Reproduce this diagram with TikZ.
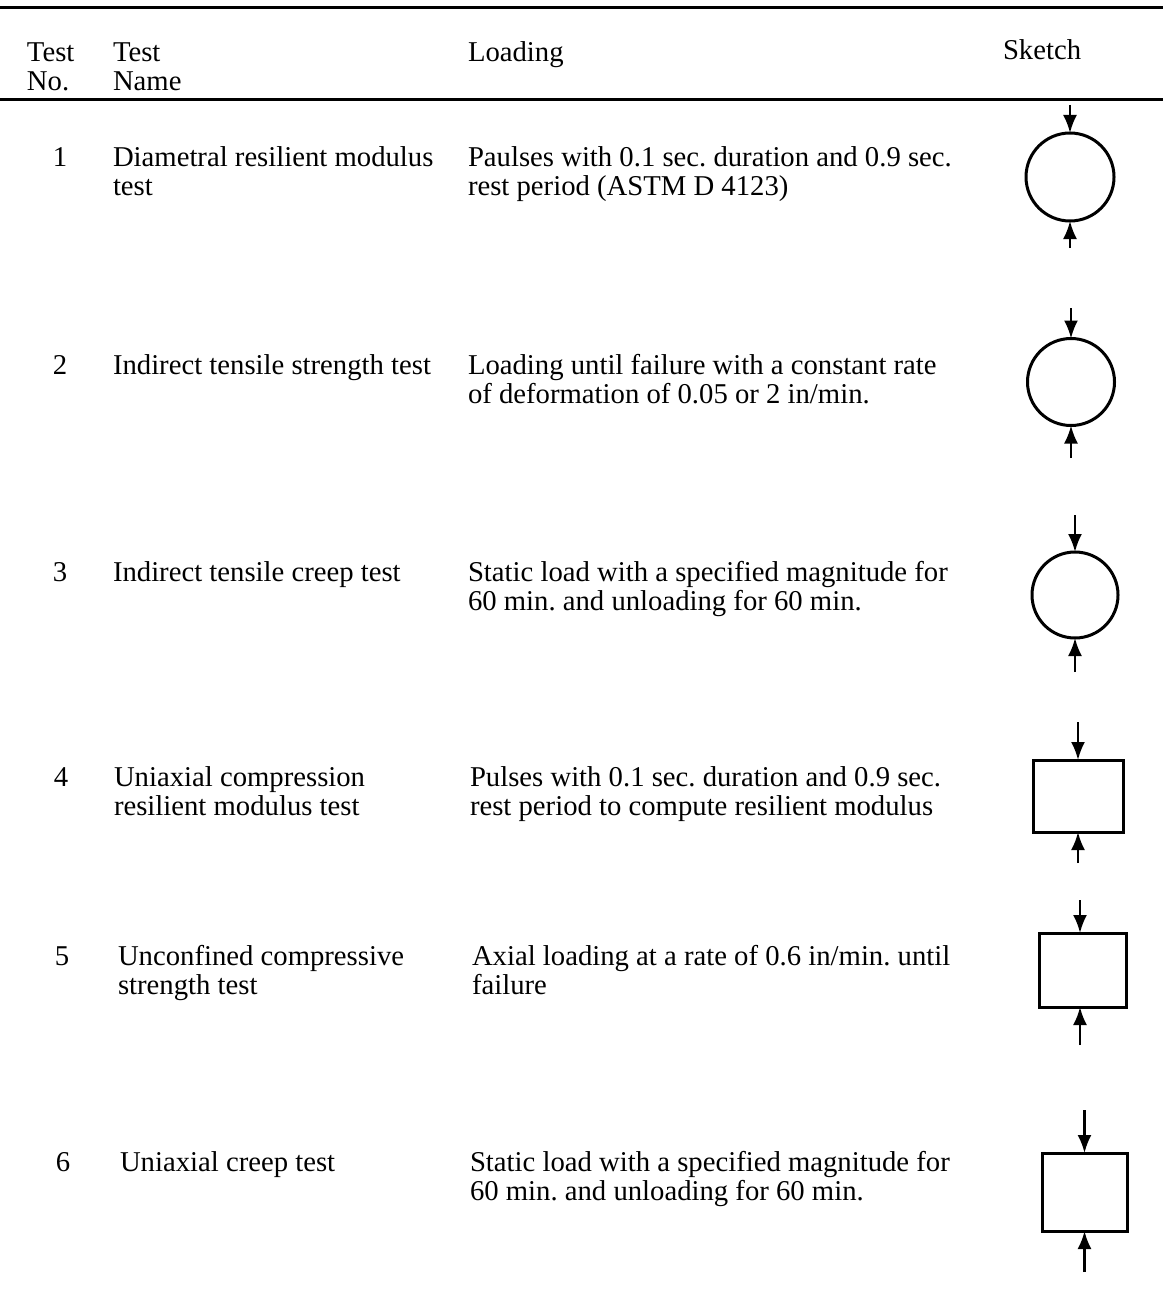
\documentclass[tikz,border=0pt]{standalone}
\usepackage{fontspec}
\setmainfont{Liberation Serif}
\usetikzlibrary{arrows.meta}
\frenchspacing
\begin{document}
\begin{tikzpicture}[x=1pt,y=-1pt,
  txt/.style={anchor=base west,inner sep=0pt,outer sep=0pt,align=left,
    font=\fontsize{28.7}{29}\selectfont},
  num/.style={anchor=base,inner sep=0pt,outer sep=0pt,font=\fontsize{28.7}{29}\selectfont},
  disc/.style={circle,draw,line width=3pt,inner sep=0pt,outer sep=0pt},
  block/.style={rectangle,draw,line width=3pt,inner sep=0pt,outer sep=0pt},
  load/.style={line width=2.4pt,-{Latex[length=18pt,width=14pt]}},
  rule/.style={line width=3pt}]
\useasboundingbox (0,0) rectangle (1163,1292);
% rules
\coordinate (r1a) at (0,8); \coordinate (r1b) at (1163,8);
\coordinate (r2a) at (0,100); \coordinate (r2b) at (1163,100);
\draw[rule] (r1a) -- (r1b);
\draw[rule] (r2a) -- (r2b);
% header (two-line nodes are placed at the baseline of their last line)
\node[txt] (h1) at (27,91) {Test\\No.};
\node[txt] (h2) at (113,91) {Test\\Name};
\node[txt] (h3) at (468,62) {Loading};
\node[txt] (h4) at (1003,60) {Sketch};
% row 1
\node[num] (n1) at (60,167) {1};
\node[txt] (a1) at (113,196) {Diametral resilient modulus\\test};
\node[txt] (l1) at (468,196) {Paulses with 0.1 sec. duration and 0.9 sec.\\rest period (ASTM D 4123)};
% row 2
\node[num] (n2) at (60,374) {2};
\node[txt] (a2) at (113,374) {Indirect tensile strength test};
\node[txt] (l2) at (468,403) {Loading until failure with a constant rate\\of deformation of 0.05 or 2 in/min.};
% row 3
\node[num] (n3) at (60,581) {3};
\node[txt] (a3) at (113,581) {Indirect tensile creep test};
\node[txt] (l3) at (468,610) {Static load with a specified magnitude for\\60 min. and unloading for 60 min.};
% row 4
\node[num] (n4) at (61,786) {4};
\node[txt] (a4) at (114,815) {Uniaxial compression\\resilient modulus test};
\node[txt] (l4) at (470,815) {Pulses with 0.1 sec. duration and 0.9 sec.\\rest period to compute resilient modulus};
% row 5
\node[num] (n5) at (62,965) {5};
\node[txt] (a5) at (118,994) {Unconfined compressive\\strength test};
\node[txt] (l5) at (472,994) {Axial loading at a rate of 0.6 in/min. until\\failure};
% row 6
\node[num] (n6) at (63,1171) {6};
\node[txt] (a6) at (120,1171) {Uniaxial creep test};
\node[txt] (l6) at (470,1200) {Static load with a specified magnitude for\\60 min. and unloading for 60 min.};
% sketches
\node[disc,minimum size=88pt] (s1) at (1070,177) {};
\coordinate (t1) at (1070,105); \coordinate (b1) at (1070,248);
\draw[load] (t1) -- (s1.north); \draw[load] (b1) -- (s1.south);
\node[disc,minimum size=87pt] (s2) at (1071,382) {};
\coordinate (t2) at (1071,308); \coordinate (b2) at (1071,458);
\draw[load] (t2) -- (s2.north); \draw[load] (b2) -- (s2.south);
\node[disc,minimum size=86pt] (s3) at (1075,595) {};
\coordinate (t3) at (1075,515); \coordinate (b3) at (1075,672);
\draw[load] (t3) -- (s3.north); \draw[load] (b3) -- (s3.south);
\node[block,minimum width=90pt,minimum height=72pt] (s4) at (1078,796) {};
\coordinate (t4) at (1078,722); \coordinate (b4) at (1078,863);
\draw[load] (t4) -- (s4.north); \draw[load] (b4) -- (s4.south);
\node[block,minimum width=87pt,minimum height=74pt] (s5) at (1083,970) {};
\coordinate (t5) at (1080,900); \coordinate (b5) at (1080,1045);
\draw[load] (t5) -- (t5|-s5.north); \draw[load] (b5) -- (b5|-s5.south);
\node[block,minimum width=85pt,minimum height=78pt] (s6) at (1084.5,1192) {};
\coordinate (t6) at (1084.5,1110); \coordinate (b6) at (1084.5,1272);
\draw[load] (t6) -- (s6.north); \draw[load] (b6) -- (s6.south);
\end{tikzpicture}
\end{document}
